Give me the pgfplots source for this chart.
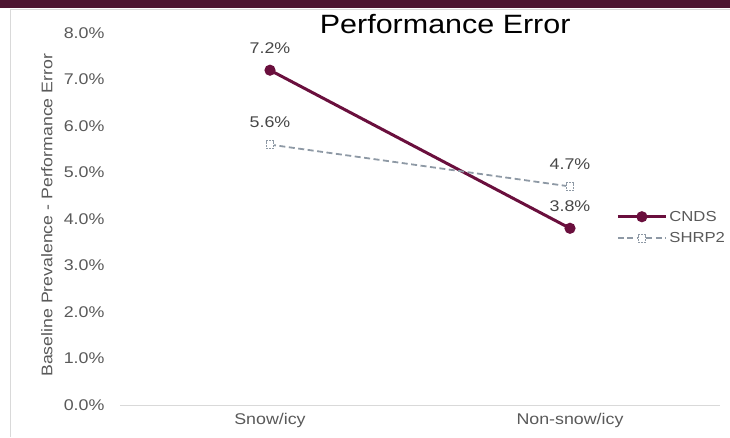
\documentclass[border=0pt]{standalone}
\usepackage{pgfplots}
\pgfplotsset{compat=1.18}
\usepackage{fontspec}
\setmainfont[FakeStretch=1.15]{Liberation Sans}
\definecolor{cnds}{HTML}{6A0F3D}
\definecolor{shrp}{HTML}{8E99A5}
\definecolor{band}{HTML}{4D1531}
\definecolor{frame}{HTML}{D9D9D9}
\definecolor{txt}{HTML}{595959}
\begin{document}
\begin{tikzpicture}[x=1pt,y=1pt]
\useasboundingbox (0,0) rectangle (730,437);
\fill[band] (0,429) rectangle (730,437);
\draw[frame,line width=1pt] (10.5,0) -- (10.5,427) -- (730,427);
\begin{axis}[
  at={(120pt,32pt)}, anchor=south west,
  scale only axis, width=600pt, height=372pt,
  xmin=-0.5, xmax=1.5, ymin=0, ymax=8,
  axis x line*=bottom, axis y line*=left,
  x axis line style={frame,line width=1pt,-},
  y axis line style={draw=none},
  xtick={0,1}, xticklabels={Snow/icy,Non-snow/icy},
  ytick={0,1,...,8},
  major tick length=0pt,
  /pgf/number format/assume math mode=true,
  yticklabel={\pgfmathprintnumber[fixed,fixed zerofill,precision=1]{\tick}\%},
  yticklabel style={xshift=-12pt},
  xticklabel style={yshift=-5pt},
  tick label style={font=\fontsize{15.5}{18}\selectfont, text=txt},
  ylabel={Baseline Prevalence - Performance Error},
  ylabel style={at={(axis description cs:-0.122,0.51)}, anchor=center, font=\fontsize{15.4}{18}\selectfont, text=txt},
  title={Performance Error},
  title style={at={(axis description cs:0.542,1.009)}, anchor=center, font=\fontsize{26.5}{30}\selectfont},
  clip=false,
  nodes near coords={\pgfmathprintnumber[fixed,fixed zerofill,precision=1]{\pgfplotspointmeta}\%},
  every node near coord/.append style={anchor=center, yshift=22pt, font=\fontsize{15.5}{18}\selectfont, text=txt!80!black},
  legend style={draw=none, fill=none, at={(0.822,0.477)}, anchor=west,
    font=\fontsize{14.5}{16}\selectfont, text=txt, row sep=6pt,
    /tikz/every even column/.append style={column sep=2pt}},
  legend cell align=left,
  legend image code/.code={
    \draw[mark repeat=2,mark phase=2] plot coordinates {(0pt,0pt) (24pt,0pt) (48pt,0pt)};
  },
]
\addplot[cnds, line width=3pt, mark=*, mark size=4pt, mark options={solid,fill=cnds}]
  coordinates {(0,7.2) (1,3.8)};
\addlegendentry{CNDS}
\addplot[shrp, line width=1.8pt, dash pattern=on 6pt off 3.5pt, mark=square*, mark size=3.8pt,
  mark options={fill=white, line width=1pt, dash pattern=on 2pt off 1pt}]
  coordinates {(0,5.6) (1,4.7)};
\addlegendentry{SHRP2}
\end{axis}
\end{tikzpicture}
\end{document}
